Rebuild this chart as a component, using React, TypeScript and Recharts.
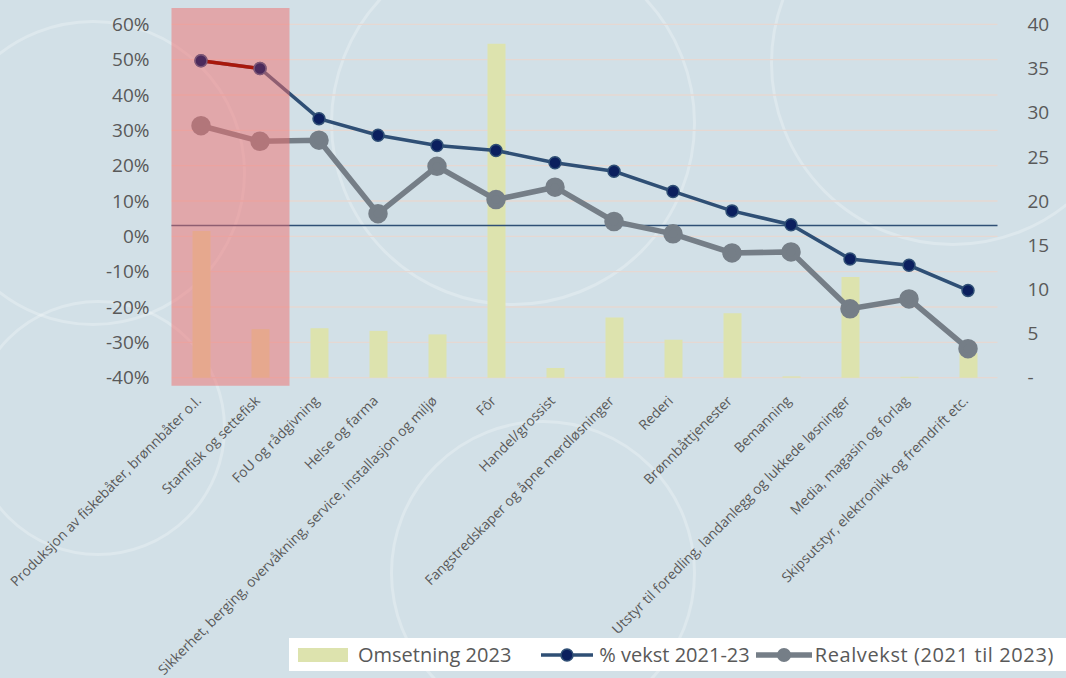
import { ComposedChart, Bar, Line, XAxis, YAxis, CartesianGrid, ReferenceLine, ReferenceArea, ReferenceDot } from 'recharts'

const categories = [
  'Produksjon av fiskebåter, brønnbåter o.l.',
  'Stamfisk og settefisk',
  'FoU og rådgivning',
  'Helse og farma',
  'Sikkerhet, berging, overvåkning, service, installasjon og miljø',
  'Fôr',
  'Handel/grossist',
  'Fangstredskaper og åpne merdløsninger',
  'Rederi',
  'Brønnbåttjenester',
  'Bemanning',
  'Utstyr til foredling, landanlegg og lukkede løsninger',
  'Media, magasin og forlag',
  'Skipsutstyr, elektronikk og fremdrift etc.',
]
const omsetning2023 = [16.6, 5.5, 5.6, 5.3, 4.9, 37.8, 1.1, 6.8, 4.3, 7.3, 0.15, 11.4, 0.1, 2.8]
const vekst = [49.7, 47.5, 33.3, 28.6, 25.7, 24.3, 20.8, 18.4, 12.7, 7.2, 3.3, -6.4, -8.2, -15.3]
const realvekst = [31.3, 26.9, 27.2, 6.4, 19.8, 10.4, 13.9, 4.2, 0.7, -4.7, -4.4, -20.5, -17.7, -31.8]
// first two categories are highlighted (red segment + shaded area)
const highlighted = [true, true, false, false, false, false, false, false, false, false, false, false, false, false]
const snittVekst = 3.1
const leftTicks = [-40, -30, -20, -10, 0, 10, 20, 30, 40, 50, 60]
const rightTicks = [0, 5, 10, 15, 20, 25, 30, 35, 40]

const data = categories.map((name, i) => ({
  name,
  omsetning: omsetning2023[i],
  vekst: vekst[i],
  realvekst: realvekst[i],
  vekstHl: highlighted[i] ? vekst[i] : null,
}))

const FONT = '"Open Sans", sans-serif'
const TXT = '#595959'
const BLUE = '#2F4F75'
const NAVY = '#0B1F5E'
const GREY = '#757E87'
const BAR = '#DDE3AE'

const CategoryTick = ({ x, y, payload }: any) => (
  <text
    x={x + 1}
    y={y + 22}
    transform={`rotate(-45 ${x + 1} ${y + 22})`}
    textAnchor="end"
    fontSize={13.8}
    fontFamily={FONT}
    fill={TXT}
  >
    {payload.value}
  </text>
)

const navyDot = { r: 6, fill: NAVY, stroke: BLUE, strokeWidth: 1.5 }

export default function App() {
  return (
    <div style={{ position: 'absolute', left: 0, top: 0, width: 1066, height: 678, background: '#D2E0E7', overflow: 'hidden', fontFamily: FONT }}>
      {/* faint decorative rings in the background */}
      {[
        [-60, 20, 300],
        [-30, 300, 250],
        [330, -60, 360],
        [770, -120, 360],
        [390, 420, 300],
      ].map(([l, t, s], i) => (
        <div key={i} style={{ position: 'absolute', left: l, top: t, width: s, height: s, borderRadius: '50%', border: '3px solid rgba(255,255,255,0.25)' }} />
      ))}
      <div style={{ position: 'absolute', left: 0, top: 0 }}>
        <ComposedChart width={1066} height={678} data={data} margin={{ top: 24.3, right: 0, bottom: 0, left: 0 }} barSize={18}>
          <CartesianGrid vertical={false} stroke="#E6D8D2" strokeWidth={1.3} yAxisId="left" />
          <XAxis dataKey="name" height={300.3} interval={0} tick={<CategoryTick />} tickLine={false} axisLine={false} tickSize={0} />
          <YAxis
            yAxisId="left"
            width={171.5}
            domain={[-40, 60]}
            ticks={leftTicks}
            tickFormatter={(v: number) => `${v}%`}
            tick={{ fontSize: 19, fill: TXT, fontFamily: FONT }}
            tickLine={false}
            axisLine={false}
            tickSize={0}
            tickMargin={22}
          />
          <YAxis
            yAxisId="right"
            orientation="right"
            width={68.5}
            domain={[0, 40]}
            ticks={rightTicks}
            tickFormatter={(v: number) => (v === 0 ? '-' : `${v}`)}
            tick={{ fontSize: 19, fill: TXT, fontFamily: FONT, textAnchor: 'start' }}
            tickLine={false}
            axisLine={false}
            tickSize={0}
            tickMargin={30}
          />
          <Bar yAxisId="right" dataKey="omsetning" name="Omsetning 2023" fill={BAR} isAnimationActive={false} />
          <ReferenceLine yAxisId="left" y={snittVekst} stroke={BLUE} strokeWidth={1.5} />
          <Line yAxisId="left" dataKey="realvekst" stroke={GREY} strokeWidth={5.5} dot={{ r: 7, fill: GREY, stroke: GREY }} activeDot={false} isAnimationActive={false} />
          <Line yAxisId="left" dataKey="vekst" stroke={BLUE} strokeWidth={3.5} dot={navyDot} activeDot={false} isAnimationActive={false} />
          <ReferenceArea
            yAxisId="left"
            x1={categories[0]}
            x2={categories[1]}
            y1={-42.3}
            y2={64.6}
            ifOverflow="visible"
            fill="#F06E6E"
            fillOpacity={0.5}
            stroke="none"
            zIndex={2000}
          />
          {/* red highlight segment drawn above the shaded area, tinted dots on top */}
          <Line yAxisId="left" dataKey="vekstHl" stroke="#A8180C" strokeWidth={3.5} dot={false} activeDot={false} isAnimationActive={false} zIndex={2100} />
          {categories.map((c, i) =>
            highlighted[i] ? (
              <ReferenceDot
                key={c}
                yAxisId="left"
                x={c}
                y={vekst[i]}
                r={6}
                fill="#4B2A5C"
                stroke="#7D5878"
                strokeWidth={1.5}
                ifOverflow="visible"
                zIndex={2200}
              />
            ) : null
          )}
        </ComposedChart>
      </div>
      {/* legend */}
      <div style={{ position: 'absolute', left: 289, top: 638, width: 777, height: 33, background: '#fff', display: 'flex', alignItems: 'center', fontSize: 20, color: TXT, whiteSpace: 'nowrap' }}>
        <div style={{ width: 50, height: 14, background: BAR, marginLeft: 9, marginRight: 10 }} />
        <span>Omsetning 2023</span>
        <svg width={54} height={20} style={{ marginLeft: 30, marginRight: 4 }}>
          <line x1={0} y1={10} x2={52} y2={10} stroke={BLUE} strokeWidth={3.5} />
          <circle cx={26} cy={10} r={6} fill={NAVY} stroke={BLUE} strokeWidth={1.5} />
        </svg>
        <span>% vekst 2021-23</span>
        <svg width={56} height={20} style={{ marginLeft: 6, marginRight: 3 }}>
          <line x1={0} y1={10} x2={56} y2={10} stroke={GREY} strokeWidth={5.5} />
          <circle cx={28} cy={10} r={7} fill={GREY} />
        </svg>
        <span style={{ letterSpacing: 0.6 }}>Realvekst (2021 til 2023)</span>
      </div>
    </div>
  )
}
